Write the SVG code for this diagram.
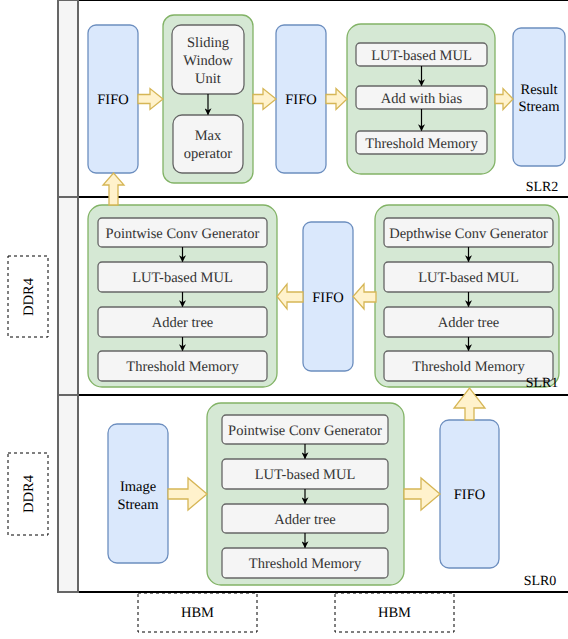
<svg xmlns="http://www.w3.org/2000/svg" width="568" height="639" viewBox="0 0 568 639" font-family="'Liberation Serif', 'Times New Roman', 'DejaVu Serif', serif">
  <style>
    text { font-family: 'Liberation Serif', 'Times New Roman', 'DejaVu Serif', serif; font-size: 14.5px; text-anchor: middle; fill: #000; text-rendering: geometricPrecision; }
    .lbl { font-size: 14px; }
    .sub text { fill: #333; }
    .fifo { fill: #dae8fc; stroke: #6c8ebf; stroke-width: 1.3; }
    .grp { fill: #d5e8d4; stroke: #82b366; stroke-width: 1.3; }
    .blk { fill: #f5f5f5; stroke: #666; stroke-width: 1.3; }
    .flow { fill: #fff2cc; stroke: #d6b656; stroke-width: 1.3; stroke-linejoin: miter; }
    .edge { stroke: #000; stroke-width: 1.2; fill: none; marker-end: url(#tip); }
    .hdr { fill: #f5f5f5; stroke: #666; stroke-width: 2; }
    .lane { fill: #fff; stroke: #000; stroke-width: 2; }
    .mem { fill: #fff; stroke: #000; stroke-width: 1; stroke-dasharray: 3 3; }
  </style>
  <defs>
    <marker id="tip" viewBox="0 0 10 10" refX="9" refY="5" markerWidth="7" markerHeight="7" markerUnits="userSpaceOnUse" orient="auto">
      <path d="M0,0 L10,5 L0,10 L3,5 Z" fill="#000"/>
    </marker>
  </defs>
  <rect width="568" height="639" fill="#fff"/>

  <!-- SLR lanes: header strip on the left, content area on the right -->
  <g id="slr2">
    <rect class="lane" x="78" y="0" width="494" height="197"/>
    <rect class="hdr" x="58" y="0" width="20" height="197"/>
    <text class="lbl" x="542" y="191">SLR2</text>
  </g>
  <g id="slr1">
    <rect class="lane" x="78" y="197" width="494" height="198"/>
    <rect class="hdr" x="58" y="197" width="20" height="198"/>
  </g>
  <g id="slr0">
    <rect class="lane" x="78" y="395" width="494" height="197"/>
    <rect class="hdr" x="58" y="395" width="20" height="197"/>
    <text class="lbl" x="540" y="585">SLR0</text>
  </g>

  <!-- external memories -->
  <g id="ddr4-top">
    <rect class="mem" x="8" y="256" width="40" height="81"/>
    <text transform="translate(33 297) rotate(-90)">DDR4</text>
  </g>
  <g id="ddr4-bottom">
    <rect class="mem" x="8" y="453" width="40" height="82"/>
    <text transform="translate(33 494) rotate(-90)">DDR4</text>
  </g>
  <g id="hbm-left">
    <rect class="mem" x="138" y="593" width="119" height="39"/>
    <text x="197.5" y="617">HBM</text>
  </g>
  <g id="hbm-right">
    <rect class="mem" x="335" y="593" width="119" height="39"/>
    <text x="394.5" y="617">HBM</text>
  </g>

  <!-- SLR2 -->
  <g id="fifo-slr2-a">
    <rect class="fifo" x="88" y="25" width="50" height="148" rx="8"/>
    <text x="113" y="104">FIFO</text>
  </g>
  <g id="pool-unit">
    <rect class="grp" x="163" y="15" width="90" height="168" rx="11"/>
  </g>
  <g id="sliding-window" class="sub">
    <rect class="blk" x="172" y="25" width="72" height="69" rx="9"/>
    <text x="208" y="47">Sliding</text>
    <text x="208" y="65">Window</text>
    <text x="208" y="83">Unit</text>
  </g>
  <g id="max-operator" class="sub">
    <rect class="blk" x="173" y="115" width="70" height="58" rx="9"/>
    <text x="208" y="140">Max</text>
    <text x="208" y="158">operator</text>
  </g>
  <g id="fifo-slr2-b">
    <rect class="fifo" x="276" y="25" width="50" height="148" rx="8"/>
    <text x="301" y="104">FIFO</text>
  </g>
  <g id="fc-unit">
    <rect class="grp" x="347" y="24" width="148" height="150" rx="14"/>
  </g>
  <g id="fc-mul" class="sub">
    <rect class="blk" x="356" y="43" width="131" height="23" rx="4"/>
    <text x="421.5" y="59.5">LUT-based MUL</text>
  </g>
  <g id="fc-bias" class="sub">
    <rect class="blk" x="356" y="86" width="131" height="23" rx="4"/>
    <text x="421.5" y="102.5">Add with bias</text>
  </g>
  <g id="fc-threshold" class="sub">
    <rect class="blk" x="356" y="131" width="131" height="23" rx="4"/>
    <text x="421.5" y="147.5">Threshold Memory</text>
  </g>
  <g id="result-stream">
    <rect class="fifo" x="513" y="28" width="52" height="138" rx="8"/>
    <text x="539" y="94">Result</text>
    <text x="539" y="111">Stream</text>
  </g>

  <!-- SLR1 -->
  <g id="pw-unit-slr1">
    <rect class="grp" x="88" y="205" width="189" height="182" rx="14"/>
  </g>
  <g id="pw1-gen" class="sub">
    <rect class="blk" x="98" y="218" width="169" height="29" rx="4"/>
    <text x="182.5" y="237.5">Pointwise Conv Generator</text>
  </g>
  <g id="pw1-mul" class="sub">
    <rect class="blk" x="98" y="262" width="169" height="30" rx="4"/>
    <text x="182.5" y="282">LUT-based MUL</text>
  </g>
  <g id="pw1-add" class="sub">
    <rect class="blk" x="98" y="307" width="169" height="30" rx="4"/>
    <text x="182.5" y="327">Adder tree</text>
  </g>
  <g id="pw1-threshold" class="sub">
    <rect class="blk" x="98" y="351" width="169" height="30" rx="4"/>
    <text x="182.5" y="371">Threshold Memory</text>
  </g>
  <g id="fifo-slr1">
    <rect class="fifo" x="303" y="222" width="50" height="149" rx="8"/>
    <text x="328" y="302">FIFO</text>
  </g>
  <g id="dw-unit">
    <rect class="grp" x="375" y="205" width="184" height="182" rx="14"/>
  </g>
  <g id="dw-gen" class="sub">
    <rect class="blk" x="384" y="218" width="169" height="29" rx="4"/>
    <text x="468.5" y="237.5">Depthwise Conv Generator</text>
  </g>
  <g id="dw-mul" class="sub">
    <rect class="blk" x="384" y="262" width="169" height="30" rx="4"/>
    <text x="468.5" y="282">LUT-based MUL</text>
  </g>
  <g id="dw-add" class="sub">
    <rect class="blk" x="384" y="307" width="169" height="30" rx="4"/>
    <text x="468.5" y="327">Adder tree</text>
  </g>
  <g id="dw-threshold" class="sub">
    <rect class="blk" x="384" y="351" width="169" height="30" rx="4"/>
    <text x="468.5" y="371">Threshold Memory</text>
  </g>
  <text class="lbl" x="542" y="387">SLR1</text>

  <!-- SLR0 -->
  <g id="image-stream">
    <rect class="fifo" x="108" y="424" width="60" height="139" rx="9"/>
    <text x="138" y="491">Image</text>
    <text x="138" y="509">Stream</text>
  </g>
  <g id="pw-unit-slr0">
    <rect class="grp" x="207" y="403" width="197" height="182" rx="14"/>
  </g>
  <g id="pw0-gen" class="sub">
    <rect class="blk" x="222" y="415" width="166" height="29" rx="4"/>
    <text x="305" y="434.5">Pointwise Conv Generator</text>
  </g>
  <g id="pw0-mul" class="sub">
    <rect class="blk" x="222" y="459" width="166" height="30" rx="4"/>
    <text x="305" y="479">LUT-based MUL</text>
  </g>
  <g id="pw0-add" class="sub">
    <rect class="blk" x="222" y="504" width="166" height="29" rx="4"/>
    <text x="305" y="523.5">Adder tree</text>
  </g>
  <g id="pw0-threshold" class="sub">
    <rect class="blk" x="222" y="548" width="166" height="30" rx="4"/>
    <text x="305" y="568">Threshold Memory</text>
  </g>
  <g id="fifo-slr0">
    <rect class="fifo" x="440" y="420" width="59" height="148" rx="9"/>
    <text x="469.5" y="499">FIFO</text>
  </g>

  <!-- connectors -->
  <g id="connectors">
    <!-- data-flow block arrows -->
    <polygon class="flow" points="138,94.5 150,94.5 150,88.5 163,99 150,109.5 150,103.5 138,103.5"/>
    <polygon class="flow" points="253,94.5 263,94.5 263,88.5 276,99 263,109.5 263,103.5 253,103.5"/>
    <polygon class="flow" points="326,94.5 336,94.5 336,88.5 347,99 336,109.5 336,103.5 326,103.5"/>
    <polygon class="flow" points="495,94.5 503,94.5 503,88.5 513,99 503,109.5 503,103.5 495,103.5"/>
    <polygon class="flow" points="109,205 109,185 103,185 113.5,173 124,185 118,185 118,205"/>
    <polygon class="flow" points="303,292 287,292 287,284 277,296.5 287,309 287,302 303,302"/>
    <polygon class="flow" points="376,292 364,292 364,284 353,296.5 364,309 364,302 376,302"/>
    <polygon class="flow" points="465,420 465,408 454,408 469.5,388 485,408 474,408 474,420"/>
    <polygon class="flow" points="168,489 188,489 188,478 207,494 188,510 188,499 168,499"/>
    <polygon class="flow" points="404,489 421,489 421,478 440,494 421,510 421,499 404,499"/>
    <!-- internal pipeline edges -->
    <line class="edge" x1="208" y1="94" x2="208" y2="114.5"/>
    <line class="edge" x1="421.5" y1="66" x2="421.5" y2="85.5"/>
    <line class="edge" x1="421.5" y1="109" x2="421.5" y2="130.5"/>
    <line class="edge" x1="182.5" y1="247" x2="182.5" y2="261.5"/>
    <line class="edge" x1="182.5" y1="292" x2="182.5" y2="306.5"/>
    <line class="edge" x1="182.5" y1="337" x2="182.5" y2="350.5"/>
    <line class="edge" x1="468.5" y1="247" x2="468.5" y2="261.5"/>
    <line class="edge" x1="468.5" y1="292" x2="468.5" y2="306.5"/>
    <line class="edge" x1="468.5" y1="337" x2="468.5" y2="350.5"/>
    <line class="edge" x1="305" y1="444" x2="305" y2="458.5"/>
    <line class="edge" x1="305" y1="489" x2="305" y2="503.5"/>
    <line class="edge" x1="305" y1="533" x2="305" y2="547.5"/>
  </g>
</svg>
